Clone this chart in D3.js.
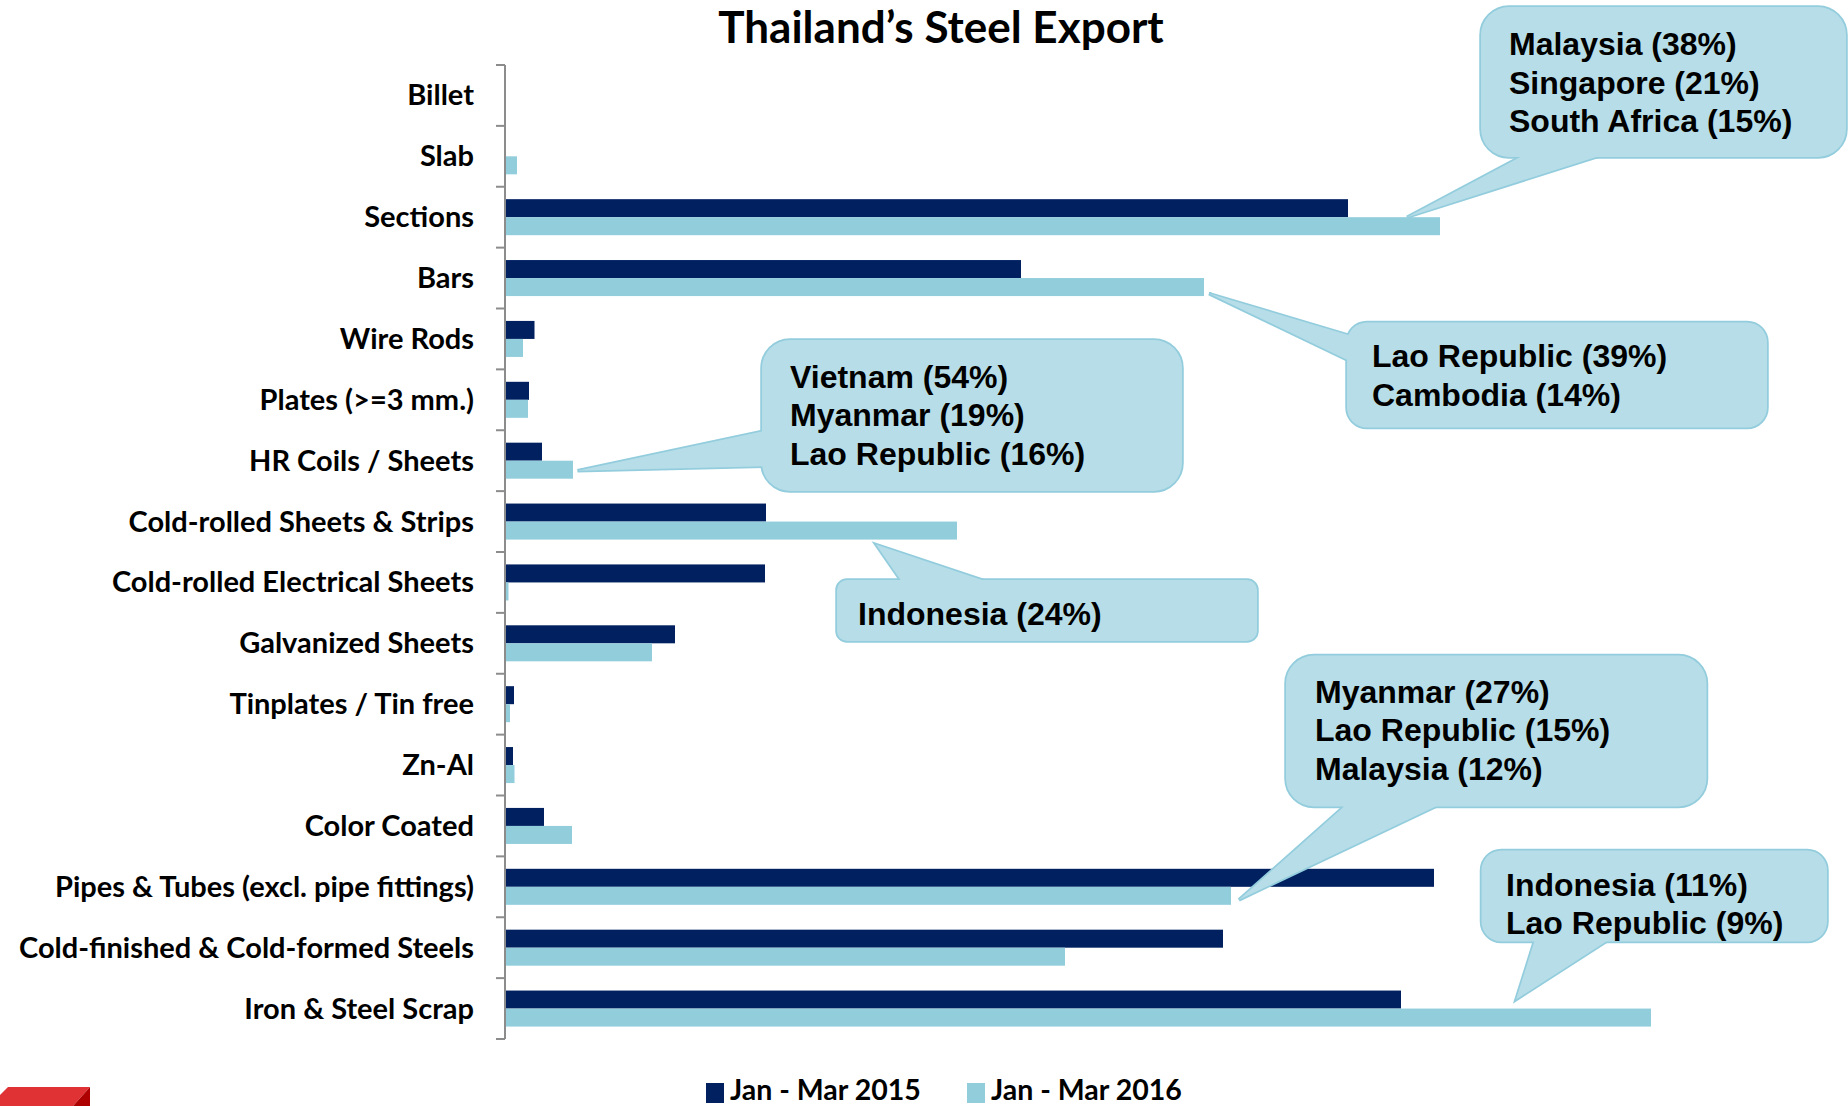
<!DOCTYPE html>
<html>
<head>
<meta charset="utf-8">
<script src="https://cdn.jsdelivr.net/npm/d3@7"></script>
<style>
  body { margin: 0; background: #fff; }
  svg { display: block; }
  .cat-label { font-family: Lato, 'Open Sans', sans-serif; font-weight: bold; font-size: 29px; fill: #000; }
  .title { font-family: Lato, 'Open Sans', sans-serif; font-weight: bold; font-size: 44px; fill: #000; }
  .legend-text { font-family: Lato, 'Open Sans', sans-serif; font-weight: bold; font-size: 28.5px; fill: #000; }
  .callout-text { font-family: Arial, 'Liberation Sans', sans-serif; font-weight: bold; font-size: 32px; fill: #000; }
</style>
</head>
<body>
<div id="chart"></div>
<script>
// Data (arbitrary units, no axis values shown)
const categories = [
  'Billet', 'Slab', 'Sections', 'Bars', 'Wire Rods', 'Plates (>=3 mm.)',
  'HR Coils / Sheets', 'Cold-rolled Sheets & Strips', 'Cold-rolled Electrical Sheets',
  'Galvanized Sheets', 'Tinplates / Tin free', 'Zn-Al', 'Color Coated',
  'Pipes & Tubes (excl. pipe fittings)', 'Cold-finished & Cold-formed Steels', 'Iron & Steel Scrap'
];
const seriesNames = ['Jan - Mar 2015', 'Jan - Mar 2016'];
const values2015 = [0.05, 0.05, 84.3, 51.6, 2.95, 2.4, 3.7, 26.1, 26.0, 17.0, 0.9, 0.8, 3.9, 92.9, 71.8, 89.6];
const values2016 = [0.03, 1.2, 93.5, 69.9, 1.8, 2.3, 6.8, 45.2, 0.35, 14.7, 0.5, 0.95, 6.7, 72.6, 56.0, 114.6];

// Top destinations shown in the callouts (2016 series)
const calloutCategories = ['Sections', 'Bars', 'HR Coils / Sheets', 'Cold-rolled Sheets & Strips',
  'Pipes & Tubes (excl. pipe fittings)', 'Iron & Steel Scrap'];
const calloutLines = [
  ['Malaysia (38%)', 'Singapore (21%)', 'South Africa (15%)'],
  ['Lao Republic (39%)', 'Cambodia (14%)'],
  ['Vietnam (54%)', 'Myanmar (19%)', 'Lao Republic (16%)'],
  ['Indonesia (24%)'],
  ['Myanmar (27%)', 'Lao Republic (15%)', 'Malaysia (12%)'],
  ['Indonesia (11%)', 'Lao Republic (9%)']
];

class SteelExportChart {
  constructor(selector, w, h) {
    this.w = w;
    this.h = h;
    this.root = selector.html('')
      .append('svg')
      .attr('width', this.w)
      .attr('height', this.h);
  }

  init() {
    this.colors = ['#002060', '#92CDDC'];
    this.x = d3.scaleLinear()
      .domain([0, 120])
      .range([505, 1705]);
    this.y = d3.scaleBand()
      .domain(categories)
      .range([65, 1039]);
    this.ySeries = d3.scaleBand()
      .domain(seriesNames)
      .range([0, this.y.bandwidth()])
      .paddingInner(0)
      .paddingOuter(0.69);

    this.rows = categories.map((c, i) => ({
      cat: c,
      vals: [
        { s: seriesNames[0], v: values2015[i], color: this.colors[0] },
        { s: seriesNames[1], v: values2016[i], color: this.colors[1] }
      ]
    }));

    this.drawTitle();
    this.drawBars();
    this.drawAxis();
    this.drawCallouts();
    this.drawLegend();
    this.drawLogo();
  }

  drawTitle() {
    this.root.append('text')
      .attr('class', 'title')
      .attr('x', 941)
      .attr('y', 43)
      .attr('text-anchor', 'middle')
      .text('Thailand\u2019s Steel Export');
  }

  drawBars() {
    let groups = this.root.append('g').attr('class', 'bars')
      .selectAll('g')
      .data(this.rows)
      .enter()
      .append('g')
      .attr('transform', d => `translate(0,${this.y(d.cat)})`);
    groups.selectAll('rect')
      .data(d => d.vals)
      .enter()
      .append('rect')
      .attr('x', this.x(0))
      .attr('y', d => this.ySeries(d.s))
      .attr('width', d => this.x(d.v) - this.x(0))
      .attr('height', this.ySeries.bandwidth())
      .attr('fill', d => d.color);
  }

  drawAxis() {
    let g = this.root.append('g').attr('class', 'axis');
    // tick marks sit on the band boundaries
    let edges = categories.map(c => this.y(c)).concat([this.y.range()[1]]);
    g.append('line')
      .attr('x1', this.x(0)).attr('x2', this.x(0))
      .attr('y1', this.y.range()[0]).attr('y2', this.y.range()[1])
      .attr('stroke', '#8c8c8c').attr('stroke-width', 2);
    g.selectAll('.tick')
      .data(edges)
      .enter()
      .append('line')
      .attr('x1', this.x(0) - 9).attr('x2', this.x(0))
      .attr('y1', d => d).attr('y2', d => d)
      .attr('stroke', '#8c8c8c').attr('stroke-width', 2);
    g.selectAll('.cat-label')
      .data(categories)
      .enter()
      .append('text')
      .attr('class', 'cat-label')
      .attr('x', 474)
      .attr('y', d => this.y(d) + this.y.bandwidth() / 2 + 10)
      .attr('text-anchor', 'end')
      .text(d => d);
  }

  drawCallouts() {
    // box layout and pointer base for each callout, tip offset from the 2016 bar end
    let layout = [
      { x: 1481, y: 7, w: 365, h: 150, r: 28, base: [[1543, 145], [1634, 145]], tx: 1509, ty: 55, lh: 38.5, dx: -33, dy: 0 },
      { x: 1347, y: 322.5, w: 420, h: 105, r: 20, base: [[1360, 338.6], [1360, 366]], tx: 1372, ty: 367, lh: 39, dx: 5, dy: 15.5 },
      { x: 762, y: 340, w: 420, h: 151, r: 28, base: [[775, 428.6], [775, 466]], tx: 790, ty: 387.5, lh: 38.5, dx: 4.5, dy: 10 },
      { x: 837, y: 580, w: 420, h: 61, r: 10, base: [[907.5, 590], [1012, 590]], tx: 858, ty: 625, lh: 38.5, dx: -81, dy: 23 },
      { x: 1286, y: 655.5, w: 420.5, h: 151, r: 28, base: [[1357, 795], [1460, 795]], tx: 1315, ty: 702.5, lh: 38.7, dx: 8, dy: 13 },
      { x: 1481.5, y: 850.5, w: 345.5, h: 91, r: 20, base: [[1538, 930], [1624, 930]], tx: 1506, ty: 895.6, lh: 38, dx: -135, dy: -9 }
    ];
    let s = seriesNames[1];
    let items = layout.map((l, i) => {
      let idx = categories.indexOf(calloutCategories[i]);
      let tip = [this.x(values2016[idx]) + l.dx, this.y(categories[idx]) + this.ySeries(s) + l.dy];
      return Object.assign({ tip: tip, lines: calloutLines[i] }, l);
    });

    let wrap = this.root.append('g').attr('class', 'callouts');
    let pointer = d => [d.base[0], d.tip, d.base[1]].map(p => p.join(',')).join(' ');
    // outline layer first, then fill layer on top so only the outer edge stays
    ['outline', 'fill'].forEach(layer => {
      let g = wrap.append('g').attr('class', layer);
      let stroke = layer == 'outline' ? '#93CDDD' : 'none';
      g.selectAll('rect')
        .data(items)
        .enter()
        .append('rect')
        .attr('x', d => d.x).attr('y', d => d.y)
        .attr('width', d => d.w).attr('height', d => d.h)
        .attr('rx', d => d.r)
        .attr('fill', '#B7DEE8')
        .attr('stroke', stroke).attr('stroke-width', 3.5);
      g.selectAll('polygon')
        .data(items)
        .enter()
        .append('polygon')
        .attr('points', pointer)
        .attr('fill', '#B7DEE8')
        .attr('stroke', stroke).attr('stroke-width', 3.5)
        .attr('stroke-linejoin', 'miter');
    });
    let texts = wrap.selectAll('.callout-text')
      .data(items)
      .enter()
      .append('text')
      .attr('class', 'callout-text');
    texts.selectAll('tspan')
      .data(d => d.lines.map((t, k) => ({ t: t, x: d.tx, y: d.ty + k * d.lh })))
      .enter()
      .append('tspan')
      .attr('x', d => d.x)
      .attr('y', d => d.y)
      .text(d => d.t);
  }

  drawLegend() {
    let legend = this.root.append('g').attr('class', 'legend');
    let pos = [706, 967];
    let item = legend.selectAll('g')
      .data(seriesNames)
      .enter()
      .append('g')
      .attr('transform', (d, i) => `translate(${pos[i]},1083)`);
    item.append('rect')
      .attr('width', 18).attr('height', 20)
      .attr('fill', (d, i) => this.colors[i]);
    item.append('text')
      .attr('class', 'legend-text')
      .attr('x', 24).attr('y', 17)
      .text(d => d);
  }

  drawLogo() {
    let logo = this.root.append('g').attr('class', 'logo');
    logo.append('polygon')
      .attr('points', '8,1087 90,1087 73,1106 0,1106 0,1095')
      .attr('fill', '#E03234');
    logo.append('polygon')
      .attr('points', '90,1087 90,1106 73,1106')
      .attr('fill', '#AE0000');
  }
}

function init() {
  let chart = new SteelExportChart(d3.select('#chart'), 1848, 1106);
  chart.init();
}

init();
</script>
</body>
</html>
